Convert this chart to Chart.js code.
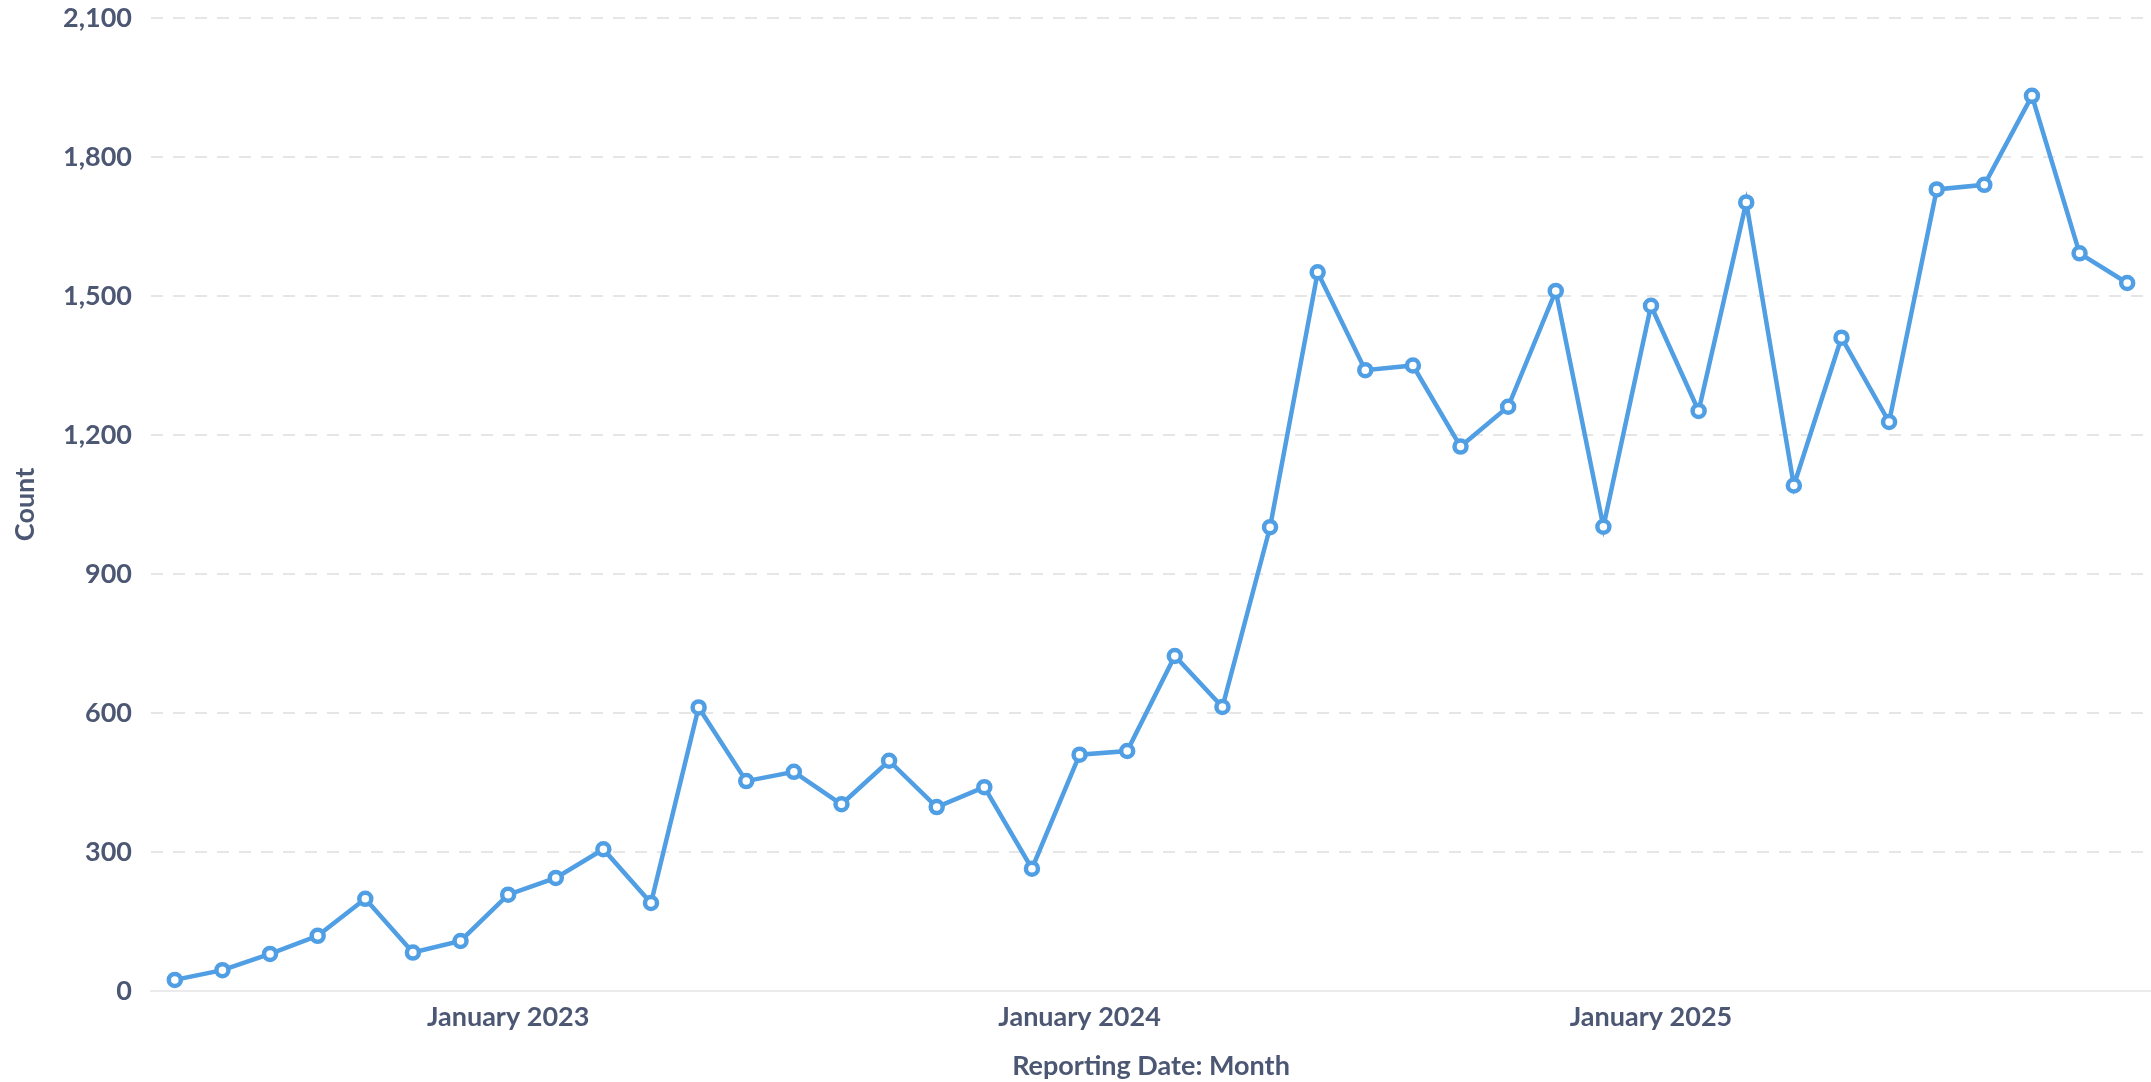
<!DOCTYPE html>
<html lang="en">

<head>
    <meta charset="UTF-8">
    <title>Count by Reporting Date: Month</title>
    <script src="https://cdn.jsdelivr.net/npm/chart.js"></script>
    <style>
        body {
            margin: 0;
            background: #ffffff;
        }

        #wrap {
            position: relative;
            width: 2151px;
            height: 1082px;
        }
    </style>
</head>

<body>

    <div id="wrap">
        <canvas id="countChart"></canvas>
    </div>

    <script type='text/javascript'>
        // Months on the x axis, one per point
        const months = [
            'June 2022', 'July 2022', 'August 2022', 'September 2022', 'October 2022', 'November 2022', 'December 2022',
            'January 2023', 'February 2023', 'March 2023', 'April 2023', 'May 2023', 'June 2023', 'July 2023',
            'August 2023', 'September 2023', 'October 2023', 'November 2023', 'December 2023',
            'January 2024', 'February 2024', 'March 2024', 'April 2024', 'May 2024', 'June 2024', 'July 2024',
            'August 2024', 'September 2024', 'October 2024', 'November 2024', 'December 2024',
            'January 2025', 'February 2025', 'March 2025', 'April 2025', 'May 2025', 'June 2025', 'July 2025',
            'August 2025', 'September 2025', 'October 2025', 'November 2025'
        ];

        // Count per month
        const counts = [
            24, 45, 80, 119, 199, 83, 108,
            208, 244, 306, 190, 612, 453, 473,
            403, 497, 397, 440, 264,
            510, 518, 723, 613, 1001, 1551, 1340,
            1350, 1175, 1261, 1511, 1002,
            1479, 1252, 1702, 1091, 1410, 1228, 1730,
            1740, 1932, 1592, 1528
        ];

        // Value axis ticks
        const yMin = 0;
        const yMax = 2100;
        const yStep = 300;

        const textColor = '#4c5773';
        const lineColor = '#509ee3';
        const tickFont = { family: 'Lato', size: 27, weight: 'bold' };

        const ctx = document.getElementById('countChart').getContext('2d');

        new Chart(ctx, {
            type: 'line',
            data: {
                labels: months,
                datasets: [{
                    label: 'Count',
                    data: counts,
                    borderColor: lineColor,
                    borderWidth: 4.5,
                    tension: 0,
                    pointRadius: 6,
                    pointBorderWidth: 4.5,
                    pointBorderColor: lineColor,
                    pointBackgroundColor: '#ffffff',
                    fill: false
                }]
            },
            options: {
                responsive: true,
                maintainAspectRatio: false,
                animation: false,
                events: [],
                layout: {
                    autoPadding: false,
                    padding: { top: 18, right: 0, bottom: 0, left: 0 }
                },
                plugins: {
                    legend: { display: false },
                    tooltip: { enabled: false }
                },
                scales: {
                    x: {
                        offset: true,
                        afterFit: function (scale) {
                            scale.height = 91;
                        },
                        grid: { display: false, drawTicks: false },
                        border: { display: true, color: '#ebebeb', width: 2 },
                        ticks: {
                            autoSkip: false,
                            maxRotation: 0,
                            padding: 10,
                            color: textColor,
                            font: tickFont,
                            // only the January months get a label
                            callback: function (value) {
                                const name = this.getLabelForValue(value);
                                return name.startsWith('January') ? name : '';
                            }
                        },
                        title: {
                            display: true,
                            text: 'Reporting Date: Month',
                            color: textColor,
                            font: tickFont,
                            padding: { top: 6, bottom: 0 }
                        }
                    },
                    y: {
                        min: yMin,
                        max: yMax,
                        // fixed axis width; the label padding should not push the plot down
                        afterFit: function (scale) {
                            scale.width = 151;
                            scale.paddingTop = 0;
                            scale.paddingBottom = 0;
                        },
                        grid: {
                            drawTicks: false,
                            lineWidth: 2,
                            color: function (c) {
                                return c.tick && c.tick.value === 0 ? 'rgba(0,0,0,0)' : '#e6e6e6';
                            }
                        },
                        border: { display: false, dash: [12, 10] },
                        ticks: {
                            stepSize: yStep,
                            padding: 19,
                            color: textColor,
                            font: tickFont,
                            callback: function (value) {
                                return value.toLocaleString('en-US');
                            }
                        },
                        title: {
                            display: true,
                            text: 'Count',
                            color: textColor,
                            font: tickFont,
                            padding: { top: 9, bottom: 0 }
                        }
                    }
                }
            }
        });
    </script>

</body>

</html>
